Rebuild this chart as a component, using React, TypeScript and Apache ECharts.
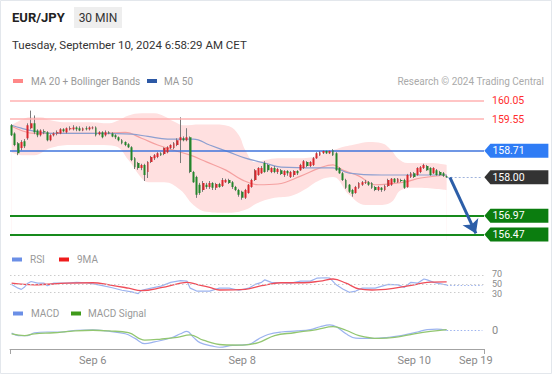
import { useEffect, useRef } from 'react';
import * as echarts from 'echarts';

const FONT = 'Roboto, "Liberation Sans", Arial, sans-serif';

// ---- categories / ticks ----
const slotCount = 146; // 135 candles + empty projection slots
const categories: string[] = Array.from({ length: slotCount }, (_, i) => `bar ${i}`);
const xTickIndex = [25, 71, 124, 143];
const xTickText = ['Sep 6', 'Sep 8', 'Sep 10', 'Sep 19'];

// ---- candles: [open, close, low, high] ----
const candles: number[][] = [
  [159.39, 159.12, 159.10, 159.42], [159.17, 158.86, 158.83, 159.20], [158.91, 158.64, 158.59, 158.94],
  [158.78, 158.94, 158.72, 158.99], [158.96, 158.83, 158.78, 159.02], [159.04, 159.39, 159.00, 159.44],
  [159.31, 159.44, 159.28, 159.78], [159.44, 159.20, 159.15, 159.65], [159.25, 159.12, 159.07, 159.28],
  [159.12, 159.25, 159.09, 159.28], [159.23, 159.20, 159.15, 159.28], [159.20, 158.99, 158.96, 159.23],
  [158.99, 159.12, 158.96, 159.15], [159.12, 159.17, 159.09, 159.20], [159.17, 159.20, 159.12, 159.25],
  [159.17, 159.28, 159.15, 159.31], [159.28, 159.23, 159.20, 159.31], [159.20, 159.31, 159.17, 159.33],
  [159.28, 159.31, 159.25, 159.36], [159.28, 159.33, 159.25, 159.39], [159.33, 159.28, 159.23, 159.36],
  [159.31, 159.25, 159.23, 159.36], [159.25, 159.31, 159.23, 159.33], [159.31, 159.28, 159.25, 159.36],
  [159.28, 159.33, 159.25, 159.36], [159.31, 159.33, 159.28, 159.36], [159.33, 159.12, 159.09, 159.36],
  [159.15, 159.20, 159.12, 159.23], [159.20, 159.07, 159.04, 159.23], [159.12, 159.20, 159.09, 159.25],
  [159.20, 159.17, 159.15, 159.23], [159.17, 159.09, 159.07, 159.20], [159.12, 159.07, 159.02, 159.15],
  [159.07, 158.99, 158.96, 159.09], [158.99, 158.91, 158.88, 159.02], [158.94, 158.86, 158.83, 158.96],
  [158.88, 158.80, 158.78, 158.91], [158.80, 158.46, 158.43, 158.83], [158.51, 158.27, 158.22, 158.54],
  [158.38, 158.25, 158.20, 158.41], [158.25, 158.33, 158.19, 158.36], [158.33, 158.06, 157.90, 158.36],
  [158.14, 158.41, 157.98, 158.43], [158.41, 158.54, 158.38, 158.57], [158.51, 158.59, 158.46, 158.62],
  [158.54, 158.64, 158.51, 158.67], [158.64, 158.59, 158.57, 158.67], [158.62, 158.78, 158.59, 158.80],
  [158.67, 158.80, 158.64, 158.83], [158.78, 158.86, 158.75, 158.88], [158.78, 158.91, 158.75, 158.94],
  [158.86, 158.99, 158.83, 159.04], [158.99, 159.07, 158.38, 159.60], [159.04, 158.99, 158.96, 159.09],
  [158.99, 159.07, 158.96, 159.31], [159.07, 158.14, 158.11, 159.09], [158.14, 157.87, 157.85, 158.17],
  [158.01, 157.53, 157.45, 158.04], [157.80, 157.58, 157.53, 157.85], [157.66, 157.85, 157.61, 157.90],
  [157.80, 157.74, 157.69, 157.85], [157.74, 157.85, 157.69, 157.90], [157.85, 157.72, 157.66, 157.87],
  [157.72, 157.82, 157.66, 157.85], [157.82, 157.74, 157.72, 157.85], [157.77, 157.93, 157.74, 157.98],
  [157.87, 157.93, 157.85, 157.96], [157.93, 157.85, 157.82, 157.96], [157.87, 157.74, 157.69, 157.90],
  [157.74, 157.66, 157.63, 157.77], [157.66, 157.53, 157.48, 157.69], [157.61, 157.45, 157.40, 157.64],
  [157.45, 157.66, 157.42, 157.69], [157.58, 157.80, 157.56, 157.82], [157.74, 157.93, 157.72, 157.96],
  [157.93, 158.19, 157.90, 158.22], [158.06, 158.25, 158.04, 158.27], [158.11, 158.25, 158.09, 158.30],
  [158.38, 158.14, 158.12, 158.43], [158.33, 158.19, 158.14, 158.36], [158.14, 158.25, 158.11, 158.27],
  [158.25, 158.14, 158.11, 158.30], [158.14, 158.22, 158.09, 158.25], [158.19, 158.09, 158.06, 158.22],
  [158.06, 158.17, 158.01, 158.19], [158.17, 158.11, 158.04, 158.19], [158.01, 158.14, 157.98, 158.17],
  [158.06, 158.17, 158.01, 158.19], [158.17, 158.11, 158.06, 158.19], [158.19, 158.33, 158.17, 158.36],
  [158.25, 158.43, 158.22, 158.46], [158.41, 158.30, 158.27, 158.43], [158.30, 158.41, 158.27, 158.43],
  [158.33, 158.51, 158.30, 158.54], [158.51, 158.64, 158.49, 158.67], [158.59, 158.67, 158.57, 158.70],
  [158.64, 158.70, 158.62, 158.72], [158.70, 158.64, 158.62, 158.72], [158.64, 158.70, 158.62, 158.72],
  [158.72, 158.59, 158.57, 158.75], [158.64, 158.19, 158.17, 158.67], [158.25, 158.11, 158.09, 158.27],
  [158.11, 157.93, 157.90, 158.14], [157.93, 157.72, 157.69, 157.96], [157.80, 157.61, 157.58, 157.82],
  [157.66, 157.56, 157.48, 157.69], [157.58, 157.74, 157.56, 157.77], [157.72, 157.85, 157.69, 157.87],
  [157.80, 157.87, 157.77, 157.90], [157.85, 157.87, 157.82, 157.93], [157.87, 157.80, 157.77, 157.90],
  [157.85, 157.72, 157.69, 157.87], [157.74, 157.66, 157.63, 157.77], [157.66, 157.74, 157.63, 157.77],
  [157.72, 157.66, 157.61, 157.74], [157.66, 157.77, 157.63, 157.80], [157.77, 157.93, 157.74, 157.96],
  [157.80, 157.96, 157.77, 157.98], [157.96, 157.87, 157.85, 157.98], [157.87, 157.96, 157.85, 157.98],
  [157.93, 157.90, 157.87, 157.96], [157.93, 157.72, 157.69, 157.96], [157.74, 158.06, 157.72, 158.09],
  [158.01, 158.11, 157.98, 158.14], [158.11, 158.01, 157.98, 158.14], [158.06, 158.25, 158.04, 158.27],
  [158.14, 158.27, 158.11, 158.30], [158.25, 158.33, 158.22, 158.36], [158.30, 158.19, 158.17, 158.33],
  [158.25, 158.06, 158.04, 158.27], [158.11, 158.25, 158.09, 158.27], [158.19, 158.06, 158.04, 158.22],
  [158.14, 158.06, 158.04, 158.17], [158.11, 158.04, 158.01, 158.14], [158.03, 158.00, 157.98, 158.05],
];

// ---- overlays: [barIndex, value] ----
const bollUpper = [
  [0, 159.39], [2, 159.49], [6, 159.6], [9, 159.6], [12, 159.52], [16, 159.47], [24, 159.47], [30, 159.44],
  [33, 159.52], [36, 159.65], [40, 159.71], [44, 159.71], [47, 159.63], [50, 159.49], [53, 159.39], [58, 159.41],
  [62, 159.41], [67, 159.36], [70, 159.12], [72, 158.72], [75, 158.4], [78, 158.46], [82, 158.51], [89, 158.51],
  [95, 158.59], [101, 158.78], [106, 158.88], [110, 158.94], [114, 158.91], [117, 158.72], [119, 158.5],
  [122, 158.38], [129, 158.38], [134, 158.33],
];
const bollLower = [
  [0, 158.67], [3, 158.59], [7, 158.59], [12, 158.78], [18, 158.86], [27, 158.86], [32, 158.83], [36, 158.46],
  [40, 157.98], [42, 157.87], [47, 157.87], [52, 157.66], [56, 157.26], [60, 157.08], [67, 157.05], [72, 157.13],
  [76, 157.32], [81, 157.45], [86, 157.5], [90, 157.66], [95, 157.93], [99, 158.01], [104, 157.53], [109, 157.26],
  [113, 157.26], [117, 157.34], [120, 157.66], [125, 157.72], [134, 157.66],
];
const ma20 = [
  [0, 159.36], [3, 159.25], [7, 159.17], [15, 159.17], [27, 159.17], [35, 159.2], [40, 159.04], [45, 158.86],
  [50, 158.72], [55, 158.59], [60, 158.41], [66, 158.19], [71, 157.93], [76, 157.8], [82, 157.82], [89, 158.03],
  [95, 158.25], [99, 158.33], [102, 158.19], [107, 158.03], [112, 157.8], [116, 157.82], [121, 157.87],
  [126, 157.98], [134, 158.06],
];
const ma50 = [
  [0, 159.39], [3, 159.31], [7, 159.23], [12, 159.17], [27, 159.17], [37, 159.15], [42, 159.09], [48, 159.02],
  [56, 159.02], [61, 158.86], [67, 158.67], [72, 158.51], [78, 158.38], [83, 158.27], [94, 158.25], [99, 158.25],
  [104, 158.11], [114, 158.06], [134, 158.06],
];
const rsi = [
  [0, 49], [2, 40], [3, 37], [4, 43], [5, 52], [6, 56], [8, 52], [10, 52], [11, 46], [13, 52], [17, 52], [20, 54],
  [23, 53], [26, 49], [28, 46], [31, 41], [34, 35], [37, 31], [39, 27], [40, 35], [43, 40], [46, 45], [49, 54],
  [52, 58], [54, 57], [55, 40], [57, 33], [59, 33], [61, 33], [64, 40], [67, 40], [70, 35], [73, 40], [75, 49],
  [77, 54], [78, 60], [80, 54], [83, 53], [86, 52], [89, 57], [92, 57], [94, 64], [97, 65], [98, 64], [100, 48],
  [102, 38], [104, 30], [106, 33], [108, 40], [112, 40], [116, 49], [119, 48], [121, 42], [123, 54], [125, 52],
  [127, 62], [128, 60], [130, 54], [133, 49], [134, 48],
];
const rsiMa9 = [
  [0, 52], [7, 48], [17, 52], [25, 53], [30, 48], [36, 40], [40, 34], [46, 41], [52, 52], [54, 54], [57, 49],
  [61, 42], [64, 35.5], [72, 37], [77, 46], [83, 53], [90, 53], [95, 57], [99, 62], [103, 52], [107, 38],
  [111, 35.5], [118, 40], [124, 48], [128, 54], [134, 55],
];
const macd = [
  [0, -0.006], [2, -0.013], [5, -0.013], [7, -0.005], [11, -0.003], [15, -0.003], [20, 0.002], [25, 0.003],
  [29, 0], [35, -0.008], [38, -0.021], [41, -0.036], [44, -0.031], [49, -0.02], [52, -0.008], [54, -0.001],
  [56, -0.018], [58, -0.033], [62, -0.043], [64, -0.046], [68, -0.041], [73, -0.038], [76, -0.023], [79, -0.01],
  [83, -0.003], [88, 0], [92, 0.004], [95, 0.012], [98, 0.017], [100, 0.012], [103, -0.008], [106, -0.02],
  [112, -0.021], [116, -0.018], [120, -0.013], [125, -0.003], [128, 0.004], [131, 0.005], [134, 0.002],
];
const macdSignal = [
  [0, -0.008], [4, -0.013], [7, -0.008], [13, -0.005], [18, -0.001], [25, 0.002], [30, 0], [36, -0.005],
  [41, -0.026], [46, -0.023], [51, -0.018], [55, -0.011], [59, -0.026], [65, -0.039], [71, -0.04], [76, -0.033],
  [81, -0.013], [87, -0.005], [94, 0.004], [99, 0.012], [103, 0.002], [107, -0.013], [113, -0.021], [118, -0.018],
  [124, -0.008], [129, -0.001], [134, 0.004],
];

// ---- levels ----
const resistanceLevels = [160.05, 159.55];
const pivotLevel = 158.71;
const lastPrice = 158.0;
const supportLevels = [156.97, 156.47];
const arrowFrom = [135, 158.0];
const arrowTo = [143, 156.5];
const rsiLevels = [70, 50, 30];
const rsiLabelShift = [-2, 0, 2];

const lastIdx = candles.length - 1;
const endIdx = slotCount - 1;
const tagPath = 'path://M0,7L6,0L64,0L64,14L6,14Z';

const txt = (text: string, x: number, y: number, o: any = {}) => ({
  type: 'text', x, y, silent: true,
  style: {
    text, fontFamily: FONT, fontSize: o.size ?? 10, fill: o.fill ?? '#999', fontWeight: o.weight ?? 'normal',
    align: o.align ?? 'left', verticalAlign: 'middle', textAlign: o.align ?? 'left', textVerticalAlign: 'middle',
  },
});
const swatch = (x: number, y: number, fill: string) => ({
  type: 'rect', silent: true, shape: { x, y: y - 2, width: 10, height: 4 }, style: { fill },
});

const option: any = {
  animation: false,
  backgroundColor: '#ffffff',
  textStyle: { fontFamily: FONT },
  grid: [
    { left: 10, width: 474, top: 90, height: 150 },
    { left: 10, width: 474, top: 267.4, height: 33.2 },
    { left: 10, width: 474, top: 320, height: 29 },
  ],
  xAxis: [0, 1, 2].map((g) => ({
    type: 'category', gridIndex: g, data: categories, boundaryGap: true,
    axisLine: { show: g === 2, onZero: false, lineStyle: { color: '#a3a3a3', width: 1 } },
    axisTick: { show: g === 2, interval: (i: number) => i === 0, length: 5, lineStyle: { color: '#a3a3a3' } },
    axisLabel: {
      show: g === 2, interval: (i: number) => xTickIndex.includes(i),
      formatter: (_v: string, i: number) => xTickText[xTickIndex.indexOf(i)] ?? '',
      color: '#8a8a8a', fontSize: 11, margin: 6, fontFamily: FONT,
    },
    splitLine: { show: false },
  })),
  yAxis: [
    { type: 'value', gridIndex: 0, min: 156.325, max: 160.33, show: false },
    { type: 'value', gridIndex: 1, min: 10, max: 90, show: false },
    { type: 'value', gridIndex: 2, min: -0.051, max: 0.031, show: false },
  ],
  series: [
    {
      name: 'BB upper', type: 'line', xAxisIndex: 0, yAxisIndex: 0, data: bollUpper, smooth: 0.4, symbol: 'none',
      lineStyle: { width: 0 }, areaStyle: { color: '#ffe0e0', opacity: 1, origin: 'start' }, z: 1, silent: true,
    },
    {
      name: 'BB lower', type: 'line', xAxisIndex: 0, yAxisIndex: 0, data: bollLower, smooth: 0.4, symbol: 'none',
      lineStyle: { width: 0 }, areaStyle: { color: '#ffffff', opacity: 1, origin: 'start' }, z: 2, silent: true,
    },
    {
      name: 'MA 20', type: 'line', xAxisIndex: 0, yAxisIndex: 0, data: ma20, smooth: 0.4, symbol: 'none',
      lineStyle: { width: 1.2, color: '#f5a0a0' }, z: 3, silent: true,
    },
    {
      name: 'MA 50', type: 'line', xAxisIndex: 0, yAxisIndex: 0, data: ma50, smooth: 0.4, symbol: 'none',
      lineStyle: { width: 1.2, color: '#8d9fd0' }, z: 3, silent: true,
    },
    {
      name: 'wicks', type: 'candlestick', xAxisIndex: 0, yAxisIndex: 0, data: candles, barWidth: 0.6, z: 4, silent: true,
      itemStyle: { color: '#7a7a7a', color0: '#7a7a7a', borderColor: '#7a7a7a', borderColor0: '#7a7a7a', borderWidth: 1 },
    },
    {
      name: 'EUR/JPY', type: 'candlestick', xAxisIndex: 0, yAxisIndex: 0, data: candles, barWidth: 2.4, z: 5, silent: true,
      itemStyle: { color: '#d9262c', color0: '#23862a', borderColor: '#d9262c', borderColor0: '#23862a', borderWidth: 0 },
    },
    {
      name: 'levels', type: 'line', xAxisIndex: 0, yAxisIndex: 0, data: [], z: 10, silent: true,
      markLine: {
        symbol: 'none', silent: true, animation: false, label: { show: false },
        data: [
          ...resistanceLevels.map((v) => ({
            yAxis: v, lineStyle: { color: '#ffb2b2', width: 1.5, type: 'solid' },
            label: { show: true, position: 'end', distance: 8, formatter: v.toFixed(2), color: '#ff2d2d', fontSize: 10.5, fontFamily: FONT },
          })),
          { yAxis: pivotLevel, lineStyle: { color: '#3f74dc', width: 1.5, type: 'solid' } },
          ...supportLevels.map((v) => ({ yAxis: v, lineStyle: { color: '#168a1c', width: 2, type: 'solid' } })),
          [
            { coord: [lastIdx, lastPrice], lineStyle: { color: '#9fb3dc', width: 1.2, type: [2, 2] } },
            { coord: [endIdx, lastPrice] },
          ],
          [
            { coord: arrowFrom, symbol: 'none', lineStyle: { color: '#2c5ea8', width: 3, type: 'solid' } },
            { coord: arrowTo, symbol: 'arrow', symbolSize: 13 },
          ],
        ],
      },
      markPoint: {
        symbol: tagPath, symbolSize: [64, 14], symbolOffset: [34, 0], silent: true, animation: false,
        label: {
          show: true, position: 'insideLeft', distance: 8, color: '#ffffff', fontSize: 10.5, fontFamily: FONT,
          formatter: (p: any) => p.name,
        },
        data: [
          { name: pivotLevel.toFixed(2), coord: [endIdx, pivotLevel], itemStyle: { color: '#2f7cf5' } },
          { name: lastPrice.toFixed(2), coord: [endIdx, lastPrice], itemStyle: { color: '#333333' } },
          ...supportLevels.map((v) => ({ name: v.toFixed(2), coord: [endIdx, v], itemStyle: { color: '#0b7d0f' } })),
        ],
      },
    },
    {
      name: 'RSI', type: 'line', xAxisIndex: 1, yAxisIndex: 1, data: rsi, symbol: 'none',
      lineStyle: { width: 1.2, color: '#9cb3ef' }, z: 3, silent: true,
    },
    {
      name: '9MA', type: 'line', xAxisIndex: 1, yAxisIndex: 1, data: rsiMa9, smooth: 0.4, symbol: 'none',
      lineStyle: { width: 1.3, color: '#ef4d59' }, z: 4, silent: true,
    },
    {
      name: 'rsi levels', type: 'line', xAxisIndex: 1, yAxisIndex: 1, data: [], z: 2, silent: true,
      markLine: {
        symbol: 'none', silent: true, animation: false, label: { show: false },
        data: [
          ...rsiLevels.map((v, k) => ({
            yAxis: v, lineStyle: { color: '#cccccc', width: 1, type: [1.5, 2.5] },
            label: {
              show: true, position: 'end', distance: 8, formatter: String(v), color: '#8a8a8a',
              fontSize: 9, lineHeight: 9, fontFamily: FONT, offset: [0, rsiLabelShift[k]],
            },
          })),
          [
            { coord: [lastIdx, rsi[rsi.length - 1][1]], lineStyle: { color: '#9cb3ef', width: 1.2, type: [1.5, 2] } },
            { coord: [endIdx, rsi[rsi.length - 1][1]] },
          ],
        ],
      },
    },
    {
      name: 'MACD', type: 'line', xAxisIndex: 2, yAxisIndex: 2, data: macd, smooth: 0.4, symbol: 'none',
      lineStyle: { width: 1.2, color: '#9cb3ef' }, z: 3, silent: true,
    },
    {
      name: 'MACD Signal', type: 'line', xAxisIndex: 2, yAxisIndex: 2, data: macdSignal, smooth: 0.4, symbol: 'none',
      lineStyle: { width: 1.3, color: '#92c670' }, z: 4, silent: true,
    },
    {
      name: 'macd levels', type: 'line', xAxisIndex: 2, yAxisIndex: 2, data: [], z: 2, silent: true,
      markLine: {
        symbol: 'none', silent: true, animation: false, label: { show: false },
        data: [
          {
            yAxis: 0, lineStyle: { color: 'rgba(0,0,0,0)', width: 0 },
            label: { show: true, position: 'end', distance: 8, formatter: '0', color: '#8a8a8a', fontSize: 11, fontFamily: FONT },
          },
          [
            { coord: [lastIdx, macd[macd.length - 1][1]], lineStyle: { color: '#9cb3ef', width: 1.2, type: [1.5, 2] } },
            { coord: [endIdx, macd[macd.length - 1][1]] },
          ],
        ],
      },
    },
  ],
  graphic: [
    { type: 'rect', silent: true, shape: { x: 0.5, y: 0.5, width: 551, height: 373 }, style: { fill: 'none', stroke: '#e3e7ec', lineWidth: 1 } },
    txt('EUR/JPY', 12, 17.5, { size: 13, weight: 'bold', fill: '#222222' }),
    { type: 'rect', silent: true, shape: { x: 74, y: 7, width: 48, height: 21 }, style: { fill: '#eeeeee' } },
    txt('30 MIN', 98, 17.5, { size: 12, fill: '#333333', align: 'center' }),
    txt('Tuesday, September 10, 2024 6:58:29 AM CET', 12, 44.5, { size: 11.5, fill: '#333333' }),
    swatch(13, 81, '#ff8888'),
    txt('MA 20 + Bollinger Bands', 31, 81, { size: 10 }),
    swatch(147, 81, '#2d59a5'),
    txt('MA 50', 164, 81, { size: 10 }),
    txt('Research © 2024 Trading Central', 544, 81, { size: 10, fill: '#aaaaaa', align: 'right' }),
    swatch(12, 259.5, '#6b8fe6'),
    txt('RSI', 30, 259.5, { size: 10 }),
    swatch(59, 259.5, '#ee1c1c'),
    txt('9MA', 77, 259.5, { size: 10 }),
    swatch(13, 313.5, '#6b8fe6'),
    txt('MACD', 31, 313.5, { size: 10 }),
    swatch(71, 313.5, '#3f9a1a'),
    txt('MACD Signal', 88, 313.5, { size: 10 }),
  ],
};

export default function App() {
  const ref = useRef<HTMLDivElement>(null);
  useEffect(() => {
    if (!ref.current) return;
    const chart = echarts.init(ref.current, null, { renderer: 'svg' });
    chart.setOption(option);
    return () => chart.dispose();
  }, []);
  return (
    <div
      ref={ref}
      style={{ position: 'absolute', left: 0, top: 0, width: 553, height: 375, background: '#ffffff' }}
    />
  );
}
